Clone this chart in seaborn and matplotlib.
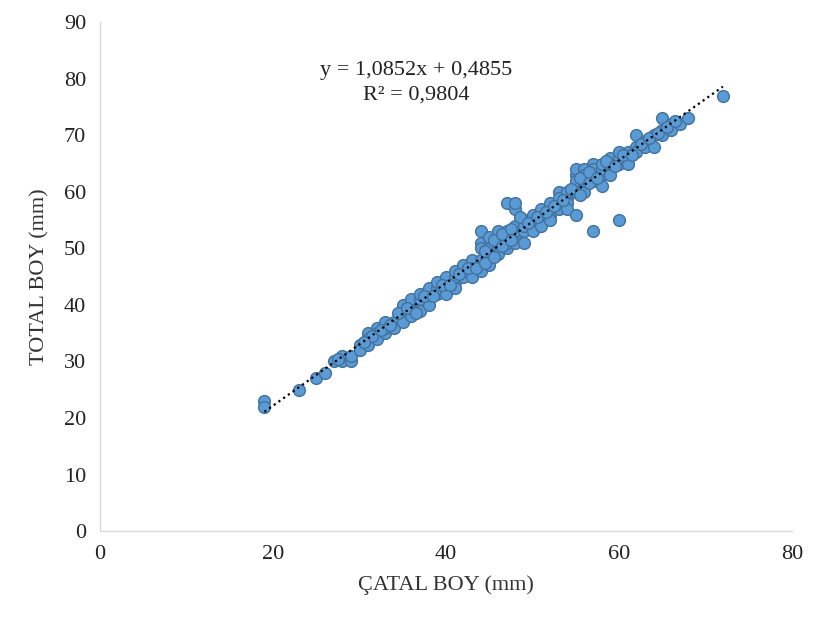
import numpy as np
import pandas as pd
import seaborn as sns
import matplotlib
matplotlib.use("Agg")
import matplotlib.pyplot as plt

# Fork length (ÇATAL BOY) and total length (TOTAL BOY), mm
catal_boy = [
    19, 19, 23, 25, 26, 27, 28, 28, 29, 29, 30, 30, 31, 31, 31, 32, 32, 32, 33, 33,
    33, 34, 34, 35, 35, 35, 35, 36, 36, 36, 36, 37, 37, 37, 37, 38, 38, 38, 38, 39,
    39, 39, 40, 40, 40, 40, 41, 41, 41, 41, 42, 42, 42, 43, 43, 43, 43, 44, 44, 44,
    44, 44, 44, 45, 45, 45, 45, 45, 46, 46, 46, 46, 46, 47, 47, 47, 47, 47, 48, 48,
    48, 48, 48, 48, 49, 49, 49, 49, 50, 50, 50, 50, 51, 51, 51, 51, 52, 52, 52, 52,
    53, 53, 53, 53, 54, 54, 54, 54, 55, 55, 55, 55, 55, 55, 56, 56, 56, 56, 56, 57,
    57, 57, 57, 57, 58, 58, 58, 58, 59, 59, 59, 59, 60, 60, 60, 60, 61, 61, 61, 62,
    62, 62, 63, 63, 64, 64, 65, 65, 65, 66, 66, 67, 68, 72,
    34.5, 35.5, 36.5, 37.5, 38.5, 39.5, 40.5, 41.5, 42.5, 43.5, 44.5, 44.5, 45.5,
    45.5, 46.5, 46.5, 47.5, 47.5, 48.5, 49.5, 50.5, 51.5, 52.5, 53.5, 54.5, 55.5,
    55.5, 56.5, 56.5, 57.5, 58.5, 59.5, 60.5, 61.5, 62.5, 63.5, 64.5, 65.5, 66.5,
    31.5, 32.5, 33.5, 30.5, 27.5,
]
total_boy = [
    23, 22, 25, 27, 28, 30, 30, 31, 30, 31, 33, 32, 35, 34, 33, 36, 35, 34, 35, 36,
    37, 37, 36, 38, 39, 40, 37, 39, 40, 38, 41, 40, 41, 39, 42, 42, 41, 40, 43, 42,
    43, 44, 43, 44, 45, 42, 44, 45, 46, 43, 46, 45, 47, 47, 46, 48, 45, 47, 48, 53,
    51, 50, 46, 48, 50, 52, 49, 47, 50, 51, 52, 53, 49, 52, 50, 51, 58, 53, 57, 58,
    52, 53, 54, 51, 53, 55, 51, 54, 55, 56, 54, 53, 55, 56, 57, 54, 56, 57, 55, 58,
    58, 60, 57, 59, 59, 60, 58, 57, 61, 63, 64, 56, 60, 62, 61, 64, 62, 60, 63, 63,
    65, 62, 53, 64, 63, 64, 61, 65, 64, 65, 66, 63, 65, 66, 67, 55, 66, 67, 65, 68,
    70, 67, 69, 68, 70, 68, 71, 73, 70, 72, 71, 72, 73, 77,
    38.5, 39.5, 38.5, 41.5, 41.5, 43.5, 43.5, 45.5, 46.5, 46.5, 49.5, 47.5, 51.5,
    48.5, 50.5, 52.5, 53.5, 51.5, 55.5, 54.5, 55.5, 56.5, 57.5, 58.5, 60.5, 62.5,
    59.5, 63.5, 61.5, 62.5, 65.5, 64.5, 66.5, 66.5, 68.5, 69.5, 70.5, 71.5, 72.5,
    34.5, 35.5, 36.5, 33.5, 30.5,
]

# Linear trendline coefficients as printed on the chart
slope = 1.0852
intercept = 0.4855
r_squared = 0.9804

x_ticks = [0, 20, 40, 60, 80]
y_ticks = [0, 10, 20, 30, 40, 50, 60, 70, 80, 90]

df = pd.DataFrame({"catal": catal_boy, "total": total_boy})

sns.set_theme(style="white")
plt.rcParams["font.family"] = ["Liberation Serif", "DejaVu Serif"]

fig = plt.figure(figsize=(8.4, 6.19), dpi=100)
ax = fig.add_axes([0.119, 0.142, 0.824, 0.822])

sns.scatterplot(
    data=df, x="catal", y="total", ax=ax,
    s=72, color="#5B9BD5", edgecolor="#41719C", linewidth=1.0, zorder=2,
)

trend_x = np.array([min(catal_boy), max(catal_boy)])
trend = pd.DataFrame({"x": trend_x, "y": slope * trend_x + intercept})
sns.lineplot(data=trend, x="x", y="y", ax=ax, color="black",
             linestyle=(0, (1, 1.6)), linewidth=1.6, zorder=3)

ax.set_xlim(0, 80)
ax.set_ylim(0, 90)
ax.set_xticks(x_ticks)
ax.set_yticks(y_ticks)
ax.tick_params(axis="both", labelsize=16, colors="#222222", length=0, pad=10)

for side in ("top", "right"):
    ax.spines[side].set_visible(False)
for side in ("left", "bottom"):
    ax.spines[side].set_color("#D9D9D9")
    ax.spines[side].set_linewidth(1.0)

ax.set_xlabel("ÇATAL BOY (mm)", fontsize=16, color="#333333", labelpad=8)
ax.set_ylabel("TOTAL BOY (mm)", fontsize=16, color="#333333", labelpad=10)

eq = f"y = {slope:.4f}x + {intercept:.4f}".replace(".", ",")
r2 = f"R² = {r_squared:.4f}".replace(".", ",")
ax.text(36.5, 79.3, eq + "\n" + r2, ha="center", va="center",
        fontsize=16, color="#222222", linespacing=1.35)

fig.savefig("out.png", dpi=100, facecolor="white")
